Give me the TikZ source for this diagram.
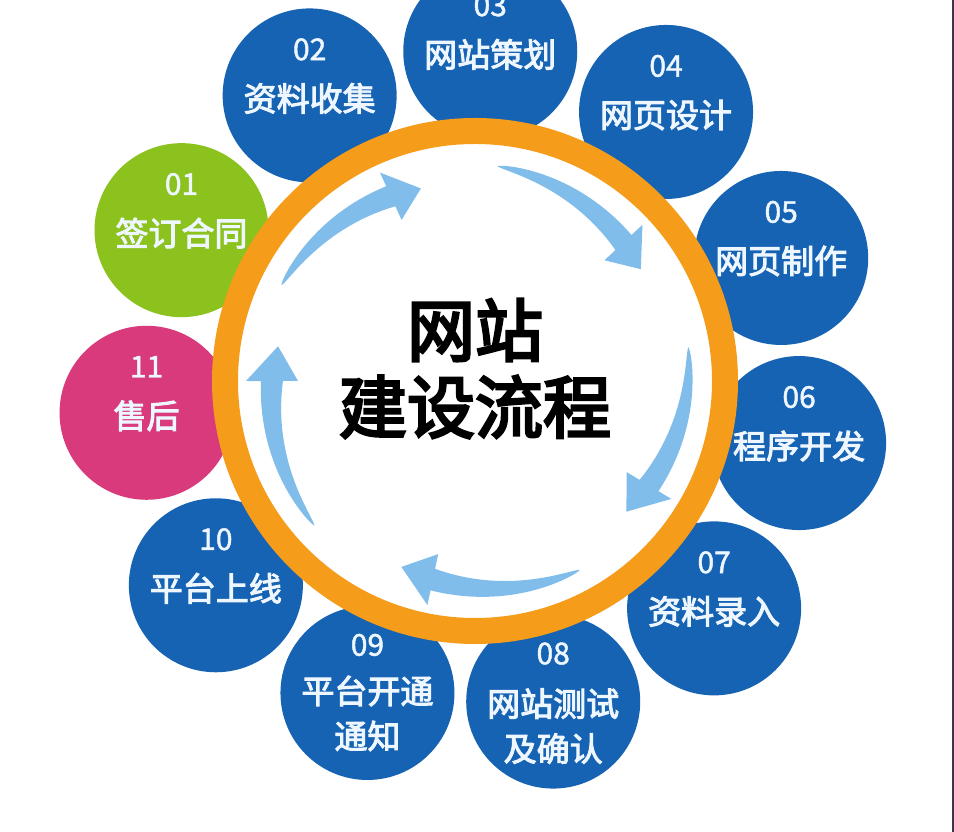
\documentclass[tikz,border=0pt]{standalone}
\usepackage{fontspec}
\setmainfont{Noto Sans CJK SC}
\newfontfamily\labfont[FakeBold=3]{Noto Sans CJK SC}
\newfontfamily\numfont[FakeBold=1.5]{Noto Sans CJK SC}
\newfontfamily\titfont[FakeBold=4]{Noto Sans CJK SC}
\definecolor{blueC}{HTML}{1763B3}
\definecolor{greenC}{HTML}{8CC21E}
\definecolor{pinkC}{HTML}{D83A7C}
\definecolor{orangeC}{HTML}{F59C1A}
\definecolor{arrowC}{HTML}{80BDEB}
\definecolor{textC}{HTML}{EEF6FF}
\definecolor{edgeC}{HTML}{3C3450}
\newcommand\flowarrow[3]{%
  \fill[arrowC] plot[domain=0.001:1,samples=40,variable=\s]
    ({(#1)+((#2)-(#1))*\s}:{216-13*\s+11*\s^0.6})
    -- (#2:229) -- (#3:200) -- (#2:177)
    -- plot[domain=1:0.001,samples=40,variable=\s]
    ({(#1)+((#2)-(#1))*\s}:{216-13*\s-11*\s^0.6}) -- cycle;}
\tikzset{
  stepcirc/.style={circle, inner sep=0pt, minimum size=174pt, fill=blueC},
  numtxt/.style={text=textC, inner sep=0pt, font=\numfont\fontsize{30}{32}\selectfont},
  labtxt/.style={text=textC, inner sep=0pt, font=\labfont\fontsize{33}{36}\selectfont},
  titletxt/.style={text=black, inner sep=0pt, font=\titfont\fontsize{68}{72}\selectfont},
}
\begin{document}
\begin{tikzpicture}[x=1pt,y=1pt]
\useasboundingbox (0,0) rectangle (954,832);
\fill[white] (0,0) rectangle (954,832);
\begin{scope}
\clip (0,0) rectangle (954,832);
\coordinate (C) at (475,451);
% step circles
\node[stepcirc, fill=greenC] (c1) at ([shift={(152.8:330)}]C) {};
\node[stepcirc] (c2) at ([shift={(120.07:330)}]C) {};
\node[stepcirc] (c3) at ([shift={(87.35:330)}]C) {};
\node[stepcirc] (c4) at ([shift={(54.62:330)}]C) {};
\node[stepcirc] (c5) at ([shift={(21.89:330)}]C) {};
\node[stepcirc] (c6) at ([shift={(-10.84:330)}]C) {};
\node[stepcirc] (c7) at ([shift={(-43.56:330)}]C) {};
\node[stepcirc] (c8) at ([shift={(-76.29:330)}]C) {};
\node[stepcirc] (c9) at ([shift={(-109.02:330)}]C) {};
\node[stepcirc] (c10) at ([shift={(-141.75:330)}]C) {};
\node[stepcirc, fill=pinkC] (c11) at ([shift={(-174.47:330)}]C) {};
% numbers
\node[numtxt] (n1) at ([yshift=46pt]c1.center) {01};
\node[numtxt] (n2) at ([yshift=46pt]c2.center) {02};
\node[numtxt] (n3) at ([yshift=46pt]c3.center) {03};
\node[numtxt] (n4) at ([yshift=46pt]c4.center) {04};
\node[numtxt] (n5) at ([yshift=46pt]c5.center) {05};
\node[numtxt] (n6) at ([yshift=46pt]c6.center) {06};
\node[numtxt] (n7) at ([yshift=46pt]c7.center) {07};
\node[numtxt] (n8) at ([yshift=48pt]c8.center) {08};
\node[numtxt] (n9) at ([yshift=48pt]c9.center) {09};
\node[numtxt] (n10) at ([yshift=46pt]c10.center) {10};
\node[numtxt] (n11) at ([yshift=46pt]c11.center) {11};
% labels
\node[labtxt] (l1) at ([yshift=-3pt]c1.center) {签订合同};
\node[labtxt] (l2) at ([yshift=-3pt]c2.center) {资料收集};
\node[labtxt] (l3) at ([yshift=-3pt]c3.center) {网站策划};
\node[labtxt] (l4) at ([yshift=-3pt]c4.center) {网页设计};
\node[labtxt] (l5) at ([yshift=-3pt]c5.center) {网页制作};
\node[labtxt] (l6) at ([yshift=-3pt]c6.center) {程序开发};
\node[labtxt] (l7) at ([yshift=-3pt]c7.center) {资料录入};
\node[labtxt] (l8a) at ([yshift=-2pt]c8.center) {网站测试};
\node[labtxt] (l8b) at ([yshift=-47pt]c8.center) {及确认};
\node[labtxt] (l9a) at ([yshift=2pt]c9.center) {平台开通};
\node[labtxt] (l9b) at ([yshift=-43pt]c9.center) {通知};
\node[labtxt] (l10) at ([yshift=-3pt]c10.center) {平台上线};
\node[labtxt] (l11) at ([yshift=-3pt]c11.center) {售后};
% ring
\node[circle, draw=orangeC, fill=white, line width=26pt, inner sep=0pt, minimum size=500pt] (ring) at (C) {};
% arrows
\begin{scope}[shift={(C)}]
\flowarrow{153.7}{114.5}{105.7}
\flowarrow{84}{43}{34}
\flowarrow{9}{-31}{-40.8}
\flowarrow{-61}{-102}{-111.6}
\flowarrow{222}{180}{170}
\end{scope}
% title
\node[titletxt] (t1) at ([yshift=51pt]ring.center) {网站};
\node[titletxt] (t2) at ([yshift=-26pt]ring.center) {建设流程};
\draw[edgeC, line width=2.5pt] (952.8,0) -- (952.8,832);
\end{scope}
\end{tikzpicture}
\end{document}
